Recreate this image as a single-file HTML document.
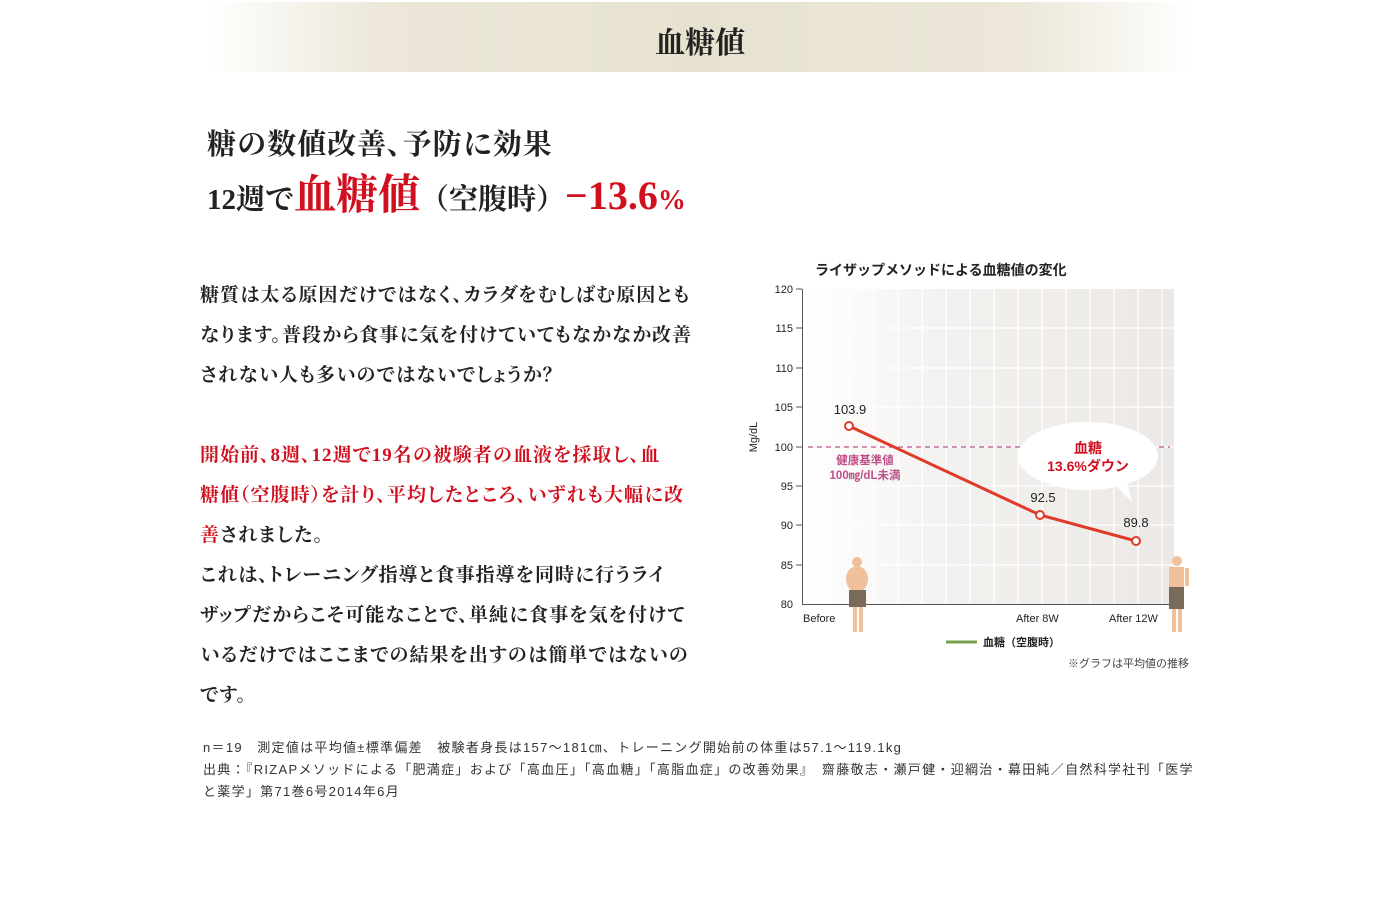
<!DOCTYPE html>
<html><head><meta charset="utf-8">
<style>
body{margin:0;width:1400px;height:899px;background:#fff;position:relative;overflow:hidden;font-family:"Liberation Serif","Noto Serif CJK SC",serif;color:#222}
.hdr{position:absolute;left:205px;top:2px;width:990px;height:70px;background:linear-gradient(90deg,#fff 0%,#ece7d9 18%,#e7e2d0 50%,#ece7d9 82%,#fff 100%)}
.hdr span{position:absolute;left:0;right:0;top:16px;text-align:center;font-size:30px;font-weight:bold;color:#222}
.h1{position:absolute;left:207px;top:122px;font-size:29px;font-weight:bold;white-space:nowrap;font-feature-settings:"palt";letter-spacing:1px}
.h2{position:absolute;left:207px;top:162px;font-size:29px;font-weight:bold;white-space:nowrap}
.red{color:#d0101e}
.body{position:absolute;left:200px;top:276px;font-size:19px;font-weight:bold;line-height:40px;white-space:nowrap;font-feature-settings:"palt";letter-spacing:1px}
.note{position:absolute;left:203px;top:737px;font-size:13px;letter-spacing:1.3px;line-height:22px;color:#333;font-family:"Liberation Sans","Noto Sans CJK JP",sans-serif;white-space:nowrap}
svg text{font-family:"Liberation Sans","Noto Sans CJK JP",sans-serif}
</style></head><body>
<div class="hdr"><span>血糖値</span></div>
<div class="h1">糖の数値改善、予防に効果</div>
<div class="h2">12週で<span class="red" style="font-size:42px">血糖値</span>（空腹時）<span class="red" style="font-size:40px">−13.6</span><span class="red" style="font-size:28px">%</span></div>
<div class="body">糖質は太る原因だけではなく、カラダをむしばむ原因とも<br>なります。普段から食事に気を付けていてもなかなか改善<br>されない人も多いのではないでしょうか？<br><br><span class="red">開始前、8週、12週で19名の被験者の血液を採取し、血<br>糖値（空腹時）を計り、平均したところ、いずれも大幅に改<br>善</span>されました。<br>これは、トレーニング指導と食事指導を同時に行うライ<br>ザップだからこそ可能なことで、単純に食事を気を付けて<br>いるだけではここまでの結果を出すのは簡単ではないの<br>です。</div>
<div class="note">n＝19　測定値は平均値±標準偏差　被験者身長は157〜181㎝、トレーニング開始前の体重は57.1〜119.1kg<br>出典：『RIZAPメソッドによる「肥満症」および「高血圧」「高血糖」「高脂血症」の改善効果』　齋藤敬志・瀬戸健・迎綱治・幕田純／自然科学社刊「医学<br>と薬学」第71巻6号2014年6月</div>
<svg style="position:absolute;left:0;top:0" width="1400" height="899">
<defs><linearGradient id="bg" x1="0" x2="1"><stop offset="0" stop-color="#fff"/><stop offset="0.4" stop-color="#f3f1ef"/><stop offset="1" stop-color="#ebe8e5"/></linearGradient></defs>
<text x="815" y="275" font-size="14" font-weight="bold" fill="#222">ライザップメソッドによる血糖値の変化</text>
<rect x="802" y="289" width="372" height="315" fill="url(#bg)"/>
<g stroke="#fff" stroke-width="1.3">
<line x1="826" y1="289" x2="826" y2="604"/><line x1="850" y1="289" x2="850" y2="604"/><line x1="874" y1="289" x2="874" y2="604"/><line x1="898" y1="289" x2="898" y2="604"/><line x1="922" y1="289" x2="922" y2="604"/><line x1="946" y1="289" x2="946" y2="604"/><line x1="970" y1="289" x2="970" y2="604"/><line x1="994" y1="289" x2="994" y2="604"/><line x1="1018" y1="289" x2="1018" y2="604"/><line x1="1042" y1="289" x2="1042" y2="604"/><line x1="1066" y1="289" x2="1066" y2="604"/><line x1="1090" y1="289" x2="1090" y2="604"/><line x1="1114" y1="289" x2="1114" y2="604"/><line x1="1138" y1="289" x2="1138" y2="604"/><line x1="1162" y1="289" x2="1162" y2="604"/>
<line x1="802" y1="328" x2="1174" y2="328"/><line x1="802" y1="368" x2="1174" y2="368"/><line x1="802" y1="407" x2="1174" y2="407"/><line x1="802" y1="447" x2="1174" y2="447"/><line x1="802" y1="486" x2="1174" y2="486"/><line x1="802" y1="525" x2="1174" y2="525"/><line x1="802" y1="565" x2="1174" y2="565"/>
</g>
<g stroke="#555" stroke-width="1"><line x1="802.5" y1="289" x2="802.5" y2="604"/><line x1="802" y1="604.5" x2="1174" y2="604.5"/>
<line x1="796" y1="289" x2="802" y2="289"/><line x1="796" y1="328" x2="802" y2="328"/><line x1="796" y1="368" x2="802" y2="368"/><line x1="796" y1="407" x2="802" y2="407"/><line x1="796" y1="447" x2="802" y2="447"/><line x1="796" y1="486" x2="802" y2="486"/><line x1="796" y1="525" x2="802" y2="525"/><line x1="796" y1="565" x2="802" y2="565"/></g>
<g font-size="11" fill="#222" text-anchor="end"><text x="793" y="293">120</text><text x="793" y="332">115</text><text x="793" y="372">110</text><text x="793" y="411">105</text><text x="793" y="451">100</text><text x="793" y="490">95</text><text x="793" y="529">90</text><text x="793" y="569">85</text><text x="793" y="608">80</text></g>
<text transform="translate(757,437) rotate(-90)" font-size="11" text-anchor="middle" fill="#222">Mg/dL</text>
<line x1="808" y1="447" x2="1170" y2="447" stroke="#c0508a" stroke-width="1.3" stroke-dasharray="5,4"/>
<text x="865" y="464" font-size="11.5" fill="#c0508a" text-anchor="middle" font-weight="bold">健康基準値</text>
<text x="865" y="479" font-size="11.5" fill="#c0508a" text-anchor="middle" font-weight="bold">100㎎/dL未満</text>
<ellipse cx="1088" cy="456" rx="70" ry="34" fill="#fff"/>
<polygon points="1110,480 1132,502 1125,475" fill="#fff"/>
<text x="1088" y="453" font-size="14" fill="#d0101e" text-anchor="middle" font-weight="bold">血糖</text>
<text x="1088" y="471" font-size="14" fill="#d0101e" text-anchor="middle" font-weight="bold">13.6%ダウン</text>
<polyline points="849,426 1040,515 1136,541" fill="none" stroke="#e03a2a" stroke-width="3"/>
<g fill="#fff" stroke="#e03a2a" stroke-width="2"><circle cx="849" cy="426" r="4"/><circle cx="1040" cy="515" r="4"/><circle cx="1136" cy="541" r="4"/></g>
<g font-size="13" fill="#222" text-anchor="middle"><text x="850" y="414">103.9</text><text x="1043" y="502">92.5</text><text x="1136" y="527">89.8</text></g>
<g font-size="11" fill="#222"><text x="803" y="622">Before</text><text x="1016" y="622">After 8W</text><text x="1109" y="622">After 12W</text></g>
<g fill="#f0c09a"><circle cx="857" cy="562" r="5"/><ellipse cx="857" cy="579" rx="11" ry="13"/><rect x="853" y="598" width="4" height="34"/><rect x="859" y="598" width="4" height="34"/></g>
<rect x="849" y="590" width="17" height="17" fill="#7a6a5a"/>
<g fill="#f0c09a"><circle cx="1177" cy="561" r="5"/><rect x="1169" y="567" width="15" height="22"/><rect x="1172" y="600" width="4" height="32"/><rect x="1178" y="600" width="4" height="32"/><rect x="1185" y="568" width="4" height="18"/></g>
<rect x="1169" y="587" width="15" height="22" fill="#7a6a5a"/>
<line x1="946" y1="642" x2="977" y2="642" stroke="#7aa050" stroke-width="3"/>
<text x="983" y="646" font-size="11" font-weight="bold" fill="#222">血糖（空腹時）</text>
<text x="1189" y="667" font-size="11" fill="#444" text-anchor="end">※グラフは平均値の推移</text>
</svg>
</body></html>
